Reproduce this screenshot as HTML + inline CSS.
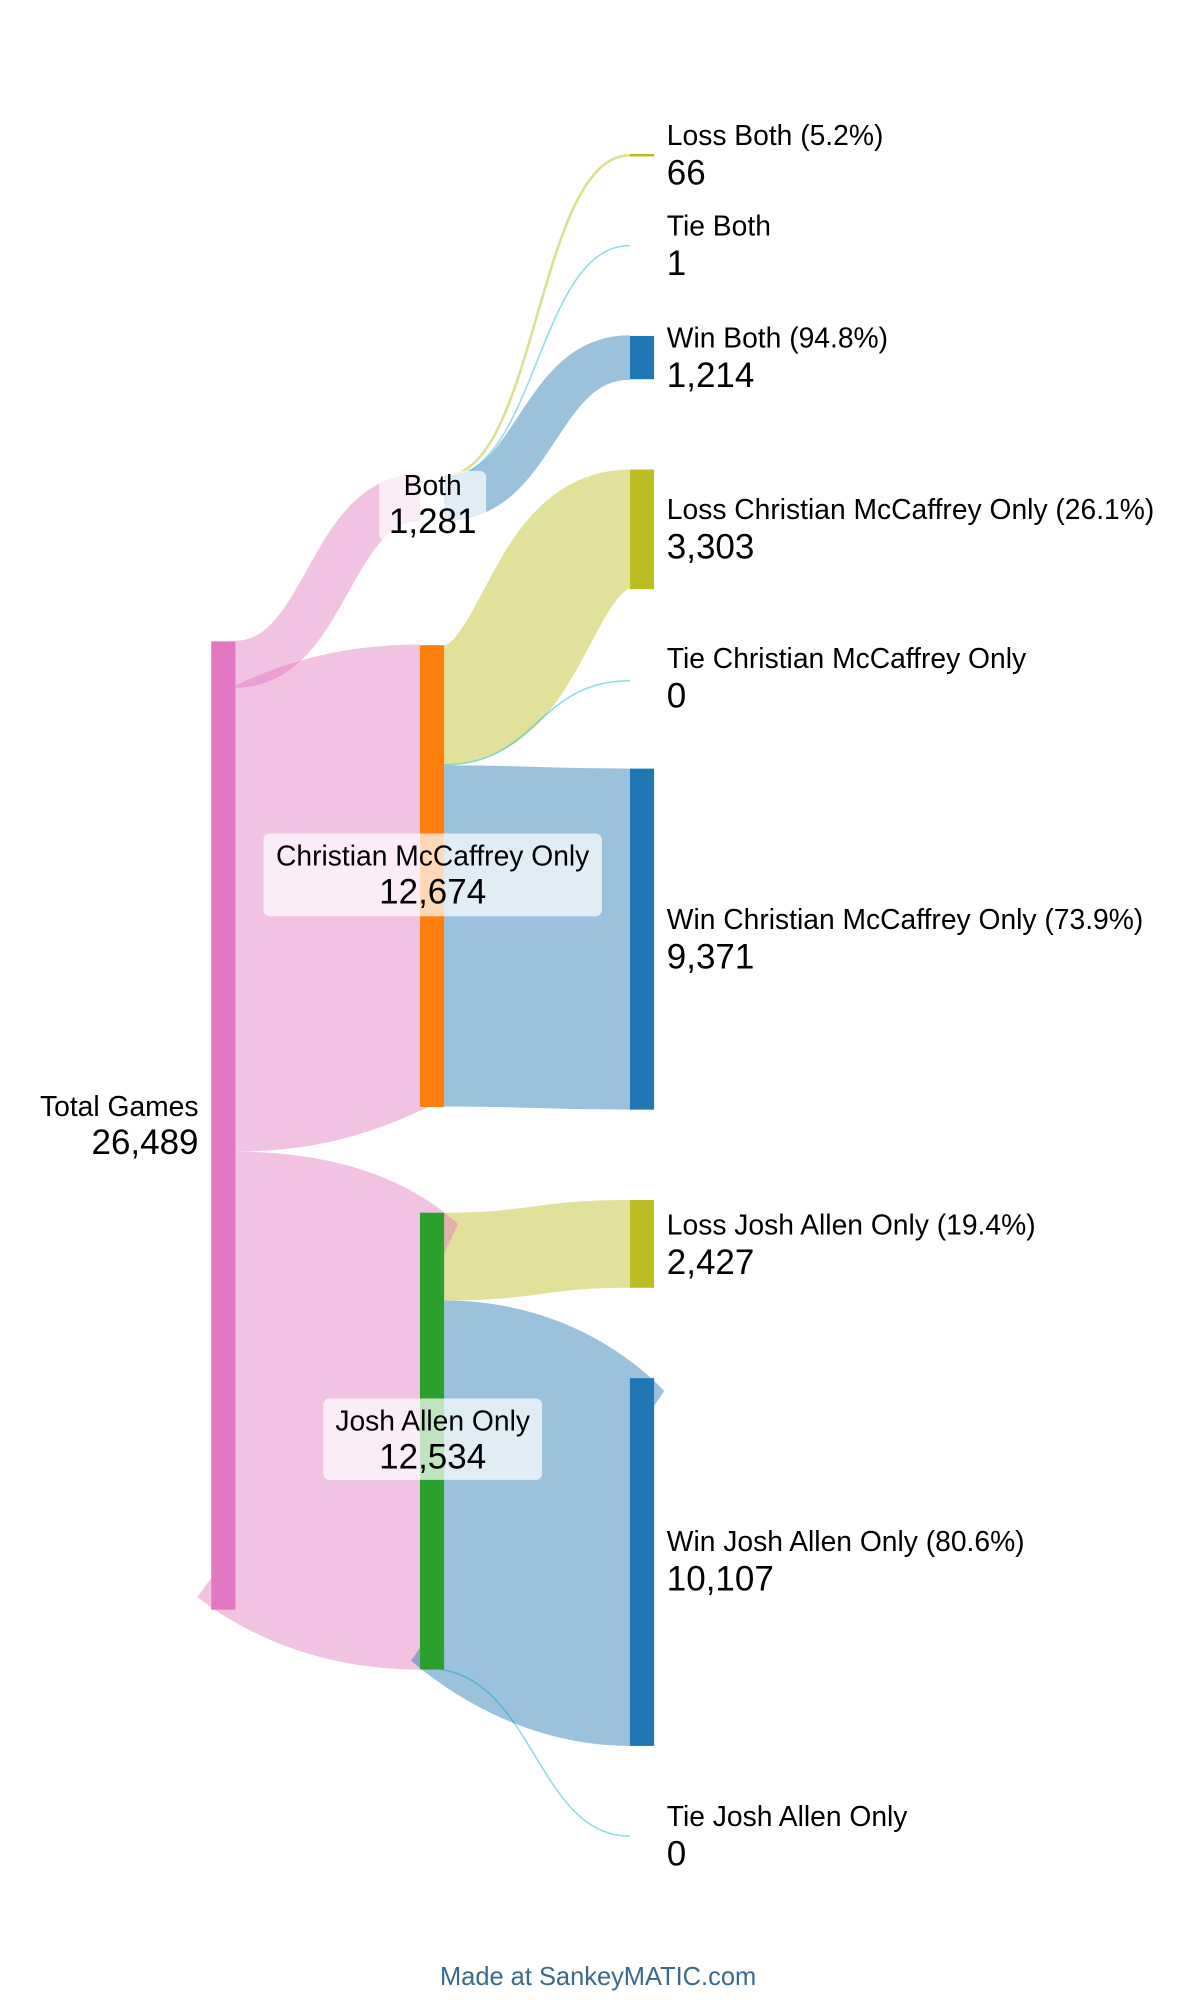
<!DOCTYPE html>
<html><head><meta charset="utf-8"><style>
html,body{margin:0;padding:0;background:#fff;}
svg{display:block;}
text{font-family:"Liberation Sans",Arial,sans-serif;fill:#000;}
.l{font-size:22.2px;}
.n{font-size:27.5px;}
</style></head><body>
<svg width="1200" height="2000" viewBox="0 0 943 1571.7" xmlns="http://www.w3.org/2000/svg">
<g fill="none" stroke-linecap="butt">
<path d="M185,522 C257,522 258,391 330,391" stroke="#e377c2" stroke-opacity="0.45" stroke-width="37"/>
<path d="M185,723 C257,723 258,688.5 330,688.5" stroke="#e377c2" stroke-opacity="0.45" stroke-width="364"/>
<path d="M349,374 C422,374 422,122 495,122" stroke="#bcbd22" stroke-opacity="0.5" stroke-width="2"/>
<path d="M349,375 C422,375 422,193 495,193" stroke="#17becf" stroke-opacity="0.5" stroke-width="1.2"/>
<path d="M349,392 C422,392 422,281 495,281" stroke="#1f77b4" stroke-opacity="0.45" stroke-width="35"/>
<path d="M349,554 C422,554 422,416 495,416" stroke="#bcbd22" stroke-opacity="0.45" stroke-width="94"/>
<path d="M349,601 C422,601 422,535 495,535" stroke="#17becf" stroke-opacity="0.5" stroke-width="1.2"/>
<path d="M349,735.5 C422,735.5 422,738 495,738" stroke="#1f77b4" stroke-opacity="0.45" stroke-width="268"/>
<path d="M349,987.5 C422,987.5 422,977.5 495,977.5" stroke="#bcbd22" stroke-opacity="0.45" stroke-width="69"/>
<path d="M335,1311 C420,1311 420,1443 495,1443" stroke="#17becf" stroke-opacity="0.5" stroke-width="1.2"/>
</g>
<path d="M185,905 C260,905 320,925 360,962 L349,985 L349,1312 L330,1312 C260,1312 200,1290 155,1255 L166,1240 L185,1240 Z" fill="#e377c2" fill-opacity="0.45"/>
<path d="M349,1022 C420,1022 480,1050 522,1093 L514,1105 L514,1372 L495,1372 C430,1372 370,1345 323,1305 L330,1295 L349,1295 Z" fill="#1f77b4" fill-opacity="0.45"/>

<rect x="166" y="504" width="19" height="761" fill="#e377c2"/>
<rect x="330" y="507" width="19" height="363" fill="#ff7f0e"/>
<rect x="330" y="953" width="19" height="359" fill="#2ca02c"/>
<rect x="495" y="121" width="19" height="2" fill="#bcbd22"/>
<rect x="495" y="264" width="19" height="34" fill="#1f77b4"/>
<rect x="495" y="369" width="19" height="94" fill="#bcbd22"/>
<rect x="495" y="604" width="19" height="268" fill="#1f77b4"/>
<rect x="495" y="943" width="19" height="69" fill="#bcbd22"/>
<rect x="495" y="1083" width="19" height="289" fill="#1f77b4"/>

<rect x="298" y="370" width="84" height="55" rx="5" fill="#fff" fill-opacity="0.7"/>
<rect x="207" y="655" width="266" height="65" rx="5" fill="#fff" fill-opacity="0.7"/>
<rect x="254" y="1099" width="172" height="64" rx="5" fill="#fff" fill-opacity="0.7"/>

<text class="l" x="156" y="877" text-anchor="end">Total Games</text>
<text class="n" x="156" y="907" text-anchor="end">26,489</text>

<text class="l" x="340" y="389" text-anchor="middle">Both</text>
<text class="n" x="340" y="419" text-anchor="middle">1,281</text>
<text class="l" x="340" y="680" text-anchor="middle">Christian McCaffrey Only</text>
<text class="n" x="340" y="710" text-anchor="middle">12,674</text>
<text class="l" x="340" y="1124" text-anchor="middle">Josh Allen Only</text>
<text class="n" x="340" y="1154" text-anchor="middle">12,534</text>

<text class="l" x="524" y="114">Loss Both (5.2%)</text>
<text class="n" x="524" y="145">66</text>
<text class="l" x="524" y="185">Tie Both</text>
<text class="n" x="524" y="216">1</text>
<text class="l" x="524" y="273">Win Both (94.8%)</text>
<text class="n" x="524" y="304">1,214</text>
<text class="l" x="524" y="408">Loss Christian McCaffrey Only (26.1%)</text>
<text class="n" x="524" y="439">3,303</text>
<text class="l" x="524" y="525">Tie Christian McCaffrey Only</text>
<text class="n" x="524" y="556">0</text>
<text class="l" x="524" y="730">Win Christian McCaffrey Only (73.9%)</text>
<text class="n" x="524" y="761">9,371</text>
<text class="l" x="524" y="970">Loss Josh Allen Only (19.4%)</text>
<text class="n" x="524" y="1001">2,427</text>
<text class="l" x="524" y="1219">Win Josh Allen Only (80.6%)</text>
<text class="n" x="524" y="1250">10,107</text>
<text class="l" x="524" y="1435">Tie Josh Allen Only</text>
<text class="n" x="524" y="1466">0</text>

<text x="470" y="1560" text-anchor="middle" style="font-size:20px;fill:#3a6a8f;">Made at SankeyMATIC.com</text>
</svg>
</body></html>
